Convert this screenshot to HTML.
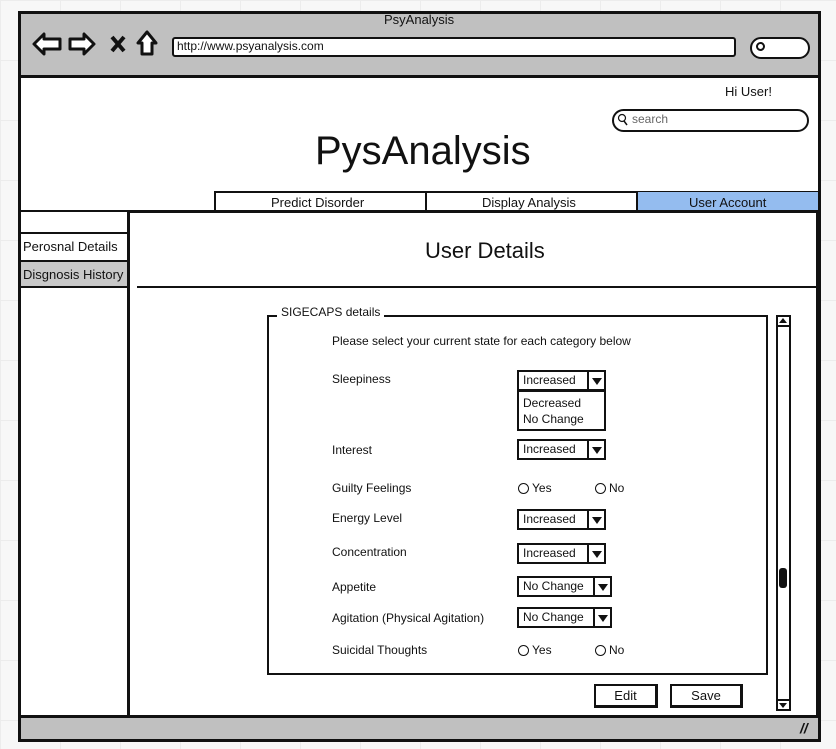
<!DOCTYPE html>
<html><head><meta charset="utf-8"><style>
*{margin:0;padding:0;box-sizing:border-box}
body{width:836px;height:749px;background:#f7f7f7;font-family:"Liberation Sans",sans-serif;color:#111;position:relative;overflow:hidden;
background-image:linear-gradient(#ececec 1px,transparent 1px),linear-gradient(90deg,#ececec 1px,transparent 1px);background-size:60px 60px}
.a{position:absolute}
.t{position:absolute;font-size:12px;white-space:nowrap}
.dd{position:absolute;height:21px;border:2px solid #111;background:#fff;font-size:12px;padding:1px 0 0 4px}
.dd b{position:absolute;right:0;top:0;bottom:0;width:17px;border-left:2px solid #111}
.dd b:after{content:"";position:absolute;left:3px;top:6px;border-left:5px solid transparent;border-right:5px solid transparent;border-top:7px solid #111}
.r{position:absolute;width:11px;height:11px;border:1px solid #111;border-radius:50%;background:#fff}
.btn{position:absolute;height:24px;border:2px solid #111;border-right-width:3px;border-bottom-width:3px;background:#fff;font-size:13px;text-align:center;line-height:19px}
</style></head><body>
<div class="a" style="left:18px;top:11px;width:803px;height:731px;border:3px solid #111;background:#fff"></div>
<div class="a" style="left:21px;top:14px;width:797px;height:64px;background:#c0c0c0;border-bottom:3px solid #111"></div>
<div class="t" style="left:384px;top:12px;font-size:13px">PsyAnalysis</div>
<svg class="a" style="left:30px;top:28px" width="135" height="32" viewBox="0 0 135 32">
<path d="M4 16 L14 6 L14 11 L30 11 L30 21 L14 21 L14 26 Z" fill="#fff" stroke="#111" stroke-width="3" stroke-linejoin="round"/>
<path d="M64 16 L54 6 L54 11 L40 11 L40 21 L54 21 L54 26 Z" fill="#fff" stroke="#111" stroke-width="3" stroke-linejoin="round"/>
<path d="M82 9 L94 23 M94 9 L82 23" stroke="#111" stroke-width="4"/>
<path d="M117 4 L108 15 L112 15 L112 26 L122 26 L122 15 L126 15 Z" fill="#fff" stroke="#111" stroke-width="3" stroke-linejoin="round"/>
</svg>
<div class="a" style="left:172px;top:37px;width:564px;height:20px;border:2px solid #111;border-radius:3px;background:#fff"></div>
<div class="t" style="left:177px;top:39px">http://www.psyanalysis.com</div>
<div class="a" style="left:750px;top:37px;width:60px;height:22px;border:2px solid #111;border-radius:11px;background:#fff"></div>
<div class="a" style="left:756px;top:42px;width:9px;height:9px;border:2px solid #111;border-radius:50%"></div>
<div class="a" style="left:21px;top:715px;width:797px;height:24px;background:#c0c0c0;border-top:3px solid #111"></div>
<div class="t" style="left:800px;top:720px;font-size:14px;font-weight:bold;font-style:italic">//</div>
<div class="t" style="left:725px;top:84px;font-size:13px">Hi User!</div>
<div class="a" style="left:612px;top:109px;width:197px;height:23px;border:2px solid #111;border-radius:12px;background:#fff"></div>
<svg class="a" style="left:617px;top:113px" width="12" height="14"><circle cx="5" cy="5" r="3.5" fill="none" stroke="#111" stroke-width="1.2"/><path d="M7 8 L10 12" stroke="#111" stroke-width="1.5"/></svg>
<div class="t" style="left:632px;top:112px;font-size:12px;color:#666">search</div>
<div class="t" style="left:315px;top:129px;font-size:40px">PysAnalysis</div>
<div class="a" style="left:214px;top:191px;width:604px;height:21px;border:2px solid #111;background:#fff"></div>
<div class="a" style="left:425px;top:192px;width:2px;height:20px;background:#111"></div>
<div class="a" style="left:636px;top:192px;width:182px;height:20px;background:#94bcef;border-left:2px solid #111"></div>
<div class="t" style="left:271px;top:195px;font-size:13px">Predict Disorder</div>
<div class="t" style="left:482px;top:195px;font-size:13px">Display Analysis</div>
<div class="t" style="left:689px;top:195px;font-size:13px">User Account</div>
<div class="a" style="left:21px;top:210px;width:797px;height:3px;background:#111"></div>
<div class="a" style="left:21px;top:212px;width:108px;height:22px;background:#fff;border-bottom:2px solid #111;border-right:2px solid #111"></div>
<div class="t" style="left:23px;top:239px;font-size:13px">Perosnal Details</div>
<div class="a" style="left:21px;top:260px;width:109px;height:28px;background:#c8c8c8;border:2px solid #111;border-left:none"></div>
<div class="t" style="left:23px;top:267px;font-size:13px">Disgnosis History</div>
<div class="a" style="left:127px;top:212px;width:3px;height:504px;background:#111"></div>
<div class="a" style="left:816px;top:212px;width:2px;height:504px;background:#111"></div>
<div class="t" style="left:425px;top:238px;font-size:22px">User Details</div>
<div class="a" style="left:137px;top:286px;width:681px;height:2px;background:#111"></div>
<div class="a" style="left:267px;top:315px;width:501px;height:360px;border:2px solid #111"></div>
<div class="t" style="left:277px;top:305px;background:#fff;padding:0 4px">SIGECAPS details</div>
<div class="t" style="left:332px;top:334px">Please select your current state for each category below</div>
<div class="t" style="left:332px;top:372px">Sleepiness</div>
<div class="dd" style="left:517px;top:370px;width:89px">Increased<b></b></div>
<div class="a" style="left:517px;top:390px;width:89px;height:41px;border:2px solid #111;background:#fff;font-size:12px;padding:3px 0 0 4px;line-height:16px">Decreased<br>No Change</div>
<div class="t" style="left:332px;top:443px">Interest</div>
<div class="dd" style="left:517px;top:439px;width:89px">Increased<b></b></div>
<div class="t" style="left:332px;top:481px">Guilty Feelings</div>
<div class="r" style="left:518px;top:483px"></div><div class="t" style="left:532px;top:481px">Yes</div>
<div class="r" style="left:595px;top:483px"></div><div class="t" style="left:609px;top:481px">No</div>
<div class="t" style="left:332px;top:511px">Energy Level</div>
<div class="dd" style="left:517px;top:509px;width:89px">Increased<b></b></div>
<div class="t" style="left:332px;top:545px">Concentration</div>
<div class="dd" style="left:517px;top:543px;width:89px">Increased<b></b></div>
<div class="t" style="left:332px;top:580px">Appetite</div>
<div class="dd" style="left:517px;top:576px;width:95px">No Change<b></b></div>
<div class="t" style="left:332px;top:611px">Agitation (Physical Agitation)</div>
<div class="dd" style="left:517px;top:607px;width:95px">No Change<b></b></div>
<div class="t" style="left:332px;top:643px">Suicidal Thoughts</div>
<div class="r" style="left:518px;top:645px"></div><div class="t" style="left:532px;top:643px">Yes</div>
<div class="r" style="left:595px;top:645px"></div><div class="t" style="left:609px;top:643px">No</div>
<div class="btn" style="left:594px;top:684px;width:64px">Edit</div>
<div class="btn" style="left:670px;top:684px;width:73px">Save</div>
<div class="a" style="left:776px;top:315px;width:15px;height:396px;border:2px solid #111;background:#fff"></div>
<div class="a" style="left:776px;top:315px;width:15px;height:12px;border:2px solid #111"></div>
<div class="a" style="left:779px;top:318px;border-left:4px solid transparent;border-right:4px solid transparent;border-bottom:5px solid #111"></div>
<div class="a" style="left:776px;top:699px;width:15px;height:12px;border:2px solid #111"></div>
<div class="a" style="left:779px;top:703px;border-left:4px solid transparent;border-right:4px solid transparent;border-top:5px solid #111"></div>
<div class="a" style="left:779px;top:568px;width:8px;height:20px;background:#111;border-radius:3px"></div>
</body></html>
